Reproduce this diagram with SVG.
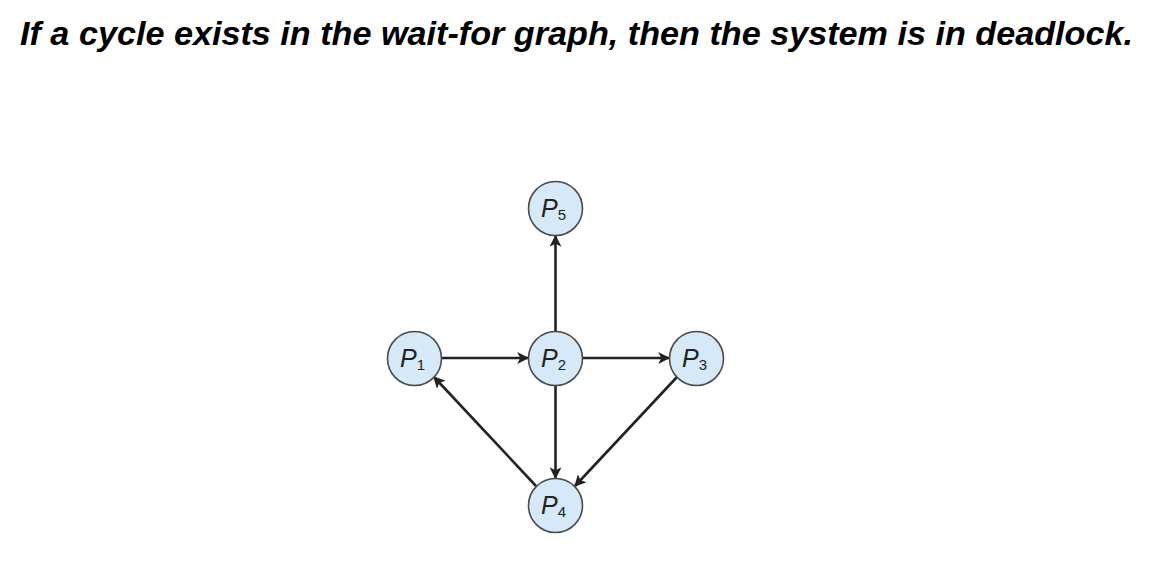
<svg xmlns="http://www.w3.org/2000/svg" width="1156" height="588" viewBox="0 0 1156 588">
<style>
.title{font-family:"Liberation Sans",Arial,sans-serif;font-weight:bold;font-style:italic;font-size:33px;fill:#000}
.node circle{fill:#d5e9f8;stroke:#4a4a4a;stroke-width:1.6}
.lbl{font-family:"Liberation Sans",Arial,sans-serif;font-size:25px;fill:#222}
.lbl .p{font-style:italic}
.lbl .s{font-size:15px}
.edge{stroke:#222;stroke-width:2.6;fill:none;marker-end:url(#ah)}
</style>
<defs>
<marker id="ah" viewBox="0 0 10 10" refX="9" refY="5" markerWidth="4.6" markerHeight="4.6" markerUnits="strokeWidth" orient="auto">
<path d="M0,0 L10,5 L0,10 L2.5,5 Z" fill="#222"/>
</marker>
</defs>
<rect width="1156" height="588" fill="#fff"/>
<text class="title" x="20" y="45" textLength="1113" lengthAdjust="spacingAndGlyphs">If a cycle exists in the wait-for graph, then the system is in deadlock.</text>
<g id="connectors">
<line class="edge" x1="442" y1="358" x2="528" y2="358"/>
<line class="edge" x1="583" y1="358" x2="669" y2="358"/>
<line class="edge" x1="555.5" y1="331" x2="555.5" y2="236"/>
<line class="edge" x1="555.5" y1="385" x2="555.5" y2="478"/>
<line class="edge" x1="677" y1="377" x2="575" y2="486"/>
<line class="edge" x1="536" y1="486" x2="434" y2="377"/>
</g>
<g id="P5" class="node"><circle cx="555.5" cy="208.5" r="27"/><text class="lbl" x="541" y="217"><tspan class="p">P</tspan><tspan class="s" dy="3">5</tspan></text></g>
<g id="P1" class="node"><circle cx="414.5" cy="358.5" r="27"/><text class="lbl" x="400" y="367"><tspan class="p">P</tspan><tspan class="s" dy="3">1</tspan></text></g>
<g id="P2" class="node"><circle cx="555.5" cy="358.5" r="27"/><text class="lbl" x="541" y="367"><tspan class="p">P</tspan><tspan class="s" dy="3">2</tspan></text></g>
<g id="P3" class="node"><circle cx="696.5" cy="358.5" r="27"/><text class="lbl" x="682" y="367"><tspan class="p">P</tspan><tspan class="s" dy="3">3</tspan></text></g>
<g id="P4" class="node"><circle cx="555.5" cy="505.5" r="27"/><text class="lbl" x="541" y="514"><tspan class="p">P</tspan><tspan class="s" dy="3">4</tspan></text></g>
</svg>
